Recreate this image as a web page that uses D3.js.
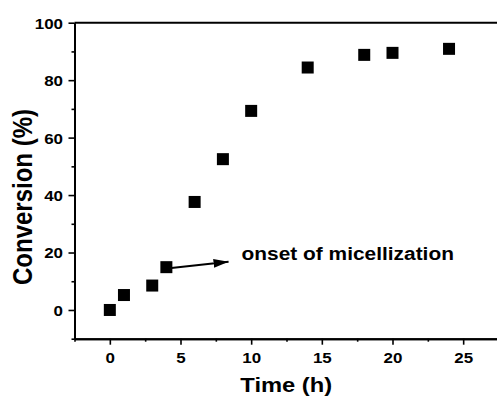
<!DOCTYPE html>
<html>
<head>
<meta charset="utf-8">
<script src="https://cdn.jsdelivr.net/npm/d3@7"></script>
<style>
  html, body { margin: 0; padding: 0; background: #fff; }
  svg { display: block; }
  text { font-family: "Liberation Sans", Arial, sans-serif; font-weight: bold; fill: #000; }
</style>
</head>
<body>
<script>
// data
var times = [0, 1, 3, 4, 6, 8, 10, 14, 18, 20, 24];
var conversion = [0, 5.2, 8.5, 14.9, 37.6, 52.5, 69.3, 84.4, 88.8, 89.5, 90.9];
var xTicks = [0, 5, 10, 15, 20, 25];
var xMinor = [-2.5, 2.5, 7.5, 12.5, 17.5, 22.5, 27.5];
var yTicks = [0, 20, 40, 60, 80, 100];
var yMinor = [-10, 10, 30, 50, 70, 90];
var note = { text: "onset of micellization", from: [4.35, 14.6], to: [8.4, 16.8], at: [9.32, 17.4] };

var width = 497, height = 396;
var sx = 1.13; // the original figure is a bit wider than tall

var svg = d3.select("body").append("svg")
    .attr("width", width)
    .attr("height", height);

var x = d3.scaleLinear().domain([-2.5, 27.5]).range([74.5, 498.5]);
var y = d3.scaleLinear().domain([-10, 100]).range([338.7, 22.7]);

// top frame line
svg.append("line")
    .attr("x1", x(-2.5)).attr("x2", x(27.5))
    .attr("y1", y(100)).attr("y2", y(100))
    .attr("stroke", "#000").attr("stroke-width", 2);

function styleAxis(g) {
    g.select(".domain").attr("stroke", "#000").attr("stroke-width", 2);
    g.selectAll(".tick line").attr("stroke", "#000").attr("stroke-width", 1.6);
}

// minor ticks
svg.append("g")
    .attr("transform", "translate(0," + y(-10) + ")")
    .call(d3.axisBottom(x).tickValues(xMinor).tickFormat("").tickSize(3).tickSizeOuter(0))
    .call(styleAxis);
svg.append("g")
    .attr("transform", "translate(" + x(-2.5) + ",0)")
    .call(d3.axisLeft(y).tickValues(yMinor).tickFormat("").tickSize(3).tickSizeOuter(0))
    .call(styleAxis);

// major ticks + labels
var xg = svg.append("g")
    .attr("transform", "translate(0," + y(-10) + ")")
    .call(d3.axisBottom(x).tickValues(xTicks).tickFormat(d3.format("d")).tickSize(6).tickSizeOuter(0))
    .call(styleAxis);
xg.selectAll(".tick text")
    .attr("y", 14)
    .attr("font-size", 15)
    .attr("transform", "scale(" + sx + ",1)")
    .attr("fill", "#000");

var yg = svg.append("g")
    .attr("transform", "translate(" + x(-2.5) + ",0)")
    .call(d3.axisLeft(y).tickValues(yTicks).tickFormat(d3.format("d")).tickSize(6).tickSizeOuter(0))
    .call(styleAxis);
yg.selectAll(".tick text")
    .attr("x", -11.5 / sx)
    .attr("dy", "0.36em")
    .attr("font-size", 15)
    .attr("transform", "scale(" + sx + ",1)")
    .attr("fill", "#000");
xg.attr("font-family", null).attr("font-size", null);
yg.attr("font-family", null).attr("font-size", null);

// axis titles
svg.append("text")
    .attr("transform", "translate(" + ((x(-2.5) + 498) / 2) + ",392) scale(" + sx + ",1)")
    .attr("text-anchor", "middle")
    .attr("font-size", 21)
    .text("Time (h)");

svg.append("text")
    .attr("transform", "translate(32,197) scale(" + sx + ",1) rotate(-90)")
    .attr("text-anchor", "middle")
    .attr("font-size", 24)
    .text("Conversion (%)");

// markers
var size = 12;
svg.append("g").selectAll("rect")
    .data(times)
    .enter().append("rect")
    .attr("x", function(d) { return x(d) - size / 2; })
    .attr("y", function(d, i) { return y(conversion[i]) - size / 2; })
    .attr("width", size)
    .attr("height", size)
    .attr("fill", "#000");

// annotation arrow
svg.append("defs").append("marker")
    .attr("id", "head")
    .attr("markerUnits", "userSpaceOnUse")
    .attr("viewBox", "0 0 15 9")
    .attr("refX", 15).attr("refY", 4.5)
    .attr("markerWidth", 15).attr("markerHeight", 9)
    .attr("orient", "auto")
    .append("path")
    .attr("d", "M0,0L15,4.5L0,9Z")
    .attr("fill", "#000");

svg.append("line")
    .attr("x1", x(note.from[0])).attr("y1", y(note.from[1]))
    .attr("x2", x(note.to[0])).attr("y2", y(note.to[1]))
    .attr("stroke", "#000").attr("stroke-width", 2)
    .attr("marker-end", "url(#head)");

svg.append("text")
    .attr("transform", "translate(" + x(note.at[0]) + "," + y(note.at[1]) + ") scale(" + sx + ",1)")
    .attr("font-size", 18.5)
    .text(note.text);
</script>
</body>
</html>
